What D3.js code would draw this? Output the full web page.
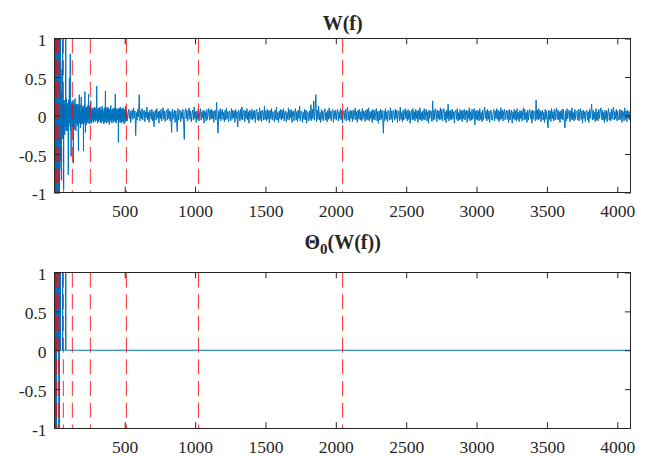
<!DOCTYPE html>
<html>
<head>
<meta charset="utf-8">
<script src="https://cdn.jsdelivr.net/npm/d3@7"></script>
<style>
  body { margin: 0; background: #fff; }
  text { font-family: "Liberation Serif", "Times New Roman", serif; fill: #262626; }
</style>
</head>
<body>
<div id="chart"></div>
<script>

var nSamples = 4096;
// dyadic scale boundaries (red dashed lines)
var scaleBounds = [2, 4, 8, 16, 32, 64, 128, 256, 512, 1024, 2048];
var xTicks = [500, 1000, 1500, 2000, 2500, 3000, 3500, 4000];
var yTicks = [-1, -0.5, 0, 0.5, 1];

// W(f), indices 1..96 (step 1)
var wHead = [
  2.1,-1.8,2.6,-2.4,1.6,-2.9,2.2,-1.5,1.9,-2.3,1.4,-1.7,2.5,-1.9,1.8,-2.0,
  1.6,-1.1,1.9,-1.2,2.1,-1.05,1.5,-1.2,1.7,-1.1,1.8,-1.25,1.4,-1.1,1.6,-1.15,
  -1.7,1.5,-1.6,1.2,-0.9,1.6,-0.7,1.1,1.45,-0.6,1.35,-0.5,0.7,-0.4,0.6,-0.45,
  0.25,-0.84,0.3,-0.2,0.15,-0.25,0.2,-0.3,0.1,0.35,1.5,-0.2,0.25,-0.15,0.2,-0.3,
  0.15,-0.97,0.2,-0.15,0.1,-0.2,0.15,-0.08,0.12,-0.25,0.08,0.2,-0.12,0.1,-0.06,0.14,
  1.4,-0.15,0.1,-0.2,0.22,-0.1,0.08,-0.18,0.14,-0.06,0.16,-0.12,0.09,-0.2,0.12,-0.07
];

// W(f), indices 97..511 (step 2)
var wMid = [
  .12,-.77,.2,-.15,.08,.49,-.1,.15,.8,-.2,.1,-.53,.14,-.08,.18,-.12,
  .1,-.15,.2,-.62,.12,-.05,.16,-.18,.08,.22,-.1,.13,-.2,.06,.15,-.09,
  .11,-.13,.07,.15,-.08,-.46,.12,-.06,.27,-.1,.09,.14,-.16,.05,-.12,.24,
  -.09,.13,.06,-.11,.1,-.07,.12,-.46,.08,-.1,.14,-.05,.31,.07,-.22,.09,
  -.08,.11,-.12,.06,.1,-.09,.13,-.04,.07,.28,-.1,.08,-.06,.12,-.11,.05,
  .06,.19,-.08,.05,-.1,.09,-.04,.07,-.07,.1,.03,-.09,.08,-.05,.11,-.06,
  .07,-.08,.04,.1,-.06,.08,.38,-.07,.05,-.1,.09,-.03,.06,-.08,.1,-.05,
  .08,-.06,.11,-.09,.04,.07,-.1,.06,-.05,.12,-.07,.03,.09,-.08,.05,-.11,
  .06,-.09,.1,-.04,.07,.32,-.08,.05,-.1,.08,-.06,.11,-.05,.07,-.09,.04,
  .1,-.07,.05,-.12,.08,-.04,.09,-.06,.13,-.08,.04,.07,-.1,.06,-.05,.09,
  -.06,.08,-.09,.05,.1,-.07,.06,-.04,.28,-.08,.07,-.1,.05,.09,-.06,.04,
  .07,-.05,.09,-.35,.06,-.08,.1,-.04,.08,-.09,.05,.11,-.07,.06,-.1,.08,
  -.05,.09,-.08,.06,.1,-.06,.04,-.11,.07,-.05,.08,-.09,.12,-.04,.06,-.07
];

// W(f), indices 513..4093 (step 5)
var wTail = [
  .05,-.07,.03,.08,-.04,.06,-.09,.02,.07,-.05,.1,-.03,.06,-.26,.04,-.06,.08,-.02,.27,-.07,
  .06,-.04,.09,-.06,.03,.07,-.08,.05,-.03,.11,-.06,.04,-.09,.07,.02,-.05,.08,-.07,.05,-.145,
  .04,.07,-.06,.09,-.03,.05,-.1,.06,-.04,.08,-.07,.03,.1,-.05,.06,-.08,.04,.07,-.06,.09,
  -.04,.06,-.07,.05,-.22,.08,-.05,.03,.07,-.09,.06,-.03,-.21,.09,-.06,.04,.07,-.08,.05,-.04,
  .08,-.06,-.31,.05,.09,-.04,.07,-.07,.04,.1,-.05,.06,-.08,.03,.07,-.06,.11,-.04,.05,-.09,
  .06,-.05,.08,-.07,.04,.09,-.06,.05,-.03,.07,-.1,.06,.04,-.07,.08,-.05,.03,.09,-.06,.07,
  -.05,.08,-.04,.06,-.09,.05,.07,-.06,.17,-.05,-.23,.06,-.04,.09,-.07,.05,.08,-.05,.04,-.08,
  .07,-.06,.1,-.04,.05,-.08,.06,.03,-.07,.09,-.05,.07,-.03,.06,-.09,.08,-.04,.05,-.15,.07,
  .05,-.07,.08,-.05,.11,-.06,.04,.07,-.08,.06,-.04,.09,-.06,.05,-.1,.07,.03,-.05,.08,-.06,
  .06,-.04,.07,-.09,.05,.08,-.06,.04,-.07,.1,-.05,.06,-.08,.07,.04,-.06,.12,-.05,.06,-.07,
  .08,-.05,.06,-.1,.07,-.04,.09,-.06,.05,.03,-.08,.07,-.05,.11,-.06,.04,-.09,.06,-.04,.08,
  -.06,.07,-.04,.09,-.07,.05,.06,-.08,.04,-.05,.1,-.06,.07,-.03,.08,-.09,.05,.06,-.07,.04,
  .09,-.06,.05,-.08,.07,-.04,.12,-.07,.05,.06,-.09,.04,-.05,.08,-.06,.07,-.1,.05,.03,-.07,
  .06,-.05,.14,-.07,.08,-.04,.19,-.06,.05,.27,-.08,.07,-.05,.12,-.06,.04,-.09,.08,-.05,.06,
  -.07,.05,.09,-.06,.04,-.08,.07,-.05,.1,-.04,.06,-.07,.05,.08,-.09,.06,-.04,.07,-.06,.05,
  .08,-.07,.05,-.04,.09,-.06,.07,-.1,.05,.06,-.05,.08,-.07,.04,.11,-.06,.05,-.08,.07,-.04,
  .06,-.08,.07,-.05,.04,.1,-.06,.05,-.09,.07,-.04,.08,-.06,.05,-.07,.09,-.05,.06,.03,-.08,
  .07,-.05,.08,-.06,.1,-.07,.05,-.04,.06,-.09,.08,-.05,.07,-.06,.04,.09,-.07,.05,-.1,.06,
  -.06,.08,-.05,.07,-.04,-.23,.06,-.07,.09,-.05,.05,-.08,.07,.04,-.06,.1,-.05,.06,-.09,.07,
  .05,-.06,.08,-.04,.07,-.09,.05,.06,-.07,.11,-.05,.04,-.08,.07,-.06,.05,.09,-.04,.06,-.07,
  .08,-.05,.06,-.1,.04,.07,-.06,.09,-.05,.05,-.07,.08,-.04,.06,-.09,.07,-.05,.1,-.06,.04,
  -.07,.06,-.05,.09,-.06,.04,.08,-.07,.05,-.1,.07,-.04,.06,.05,-.08,.19,-.06,.07,-.05,.09,
  .05,-.08,.07,-.04,.06,-.06,.1,-.05,.08,-.07,.04,.09,-.06,.05,-.09,.07,-.04,.15,-.07,.06,
  -.05,.07,-.06,.08,-.04,.05,-.1,.06,.07,-.05,.09,-.07,.04,-.06,.08,-.05,.06,-.08,.07,-.04,
  .08,-.06,.05,.07,-.09,.06,-.04,.1,-.07,.05,-.06,.08,-.05,.04,.09,-.12,.06,-.05,.07,-.06,
  .06,-.07,.09,-.05,.04,-.08,.07,-.06,.05,.11,-.04,.06,-.07,.08,-.05,.06,-.09,.05,.07,-.06,
  -.06,.05,.08,-.07,.06,-.04,.09,-.05,.07,-.08,.05,-.06,.1,-.04,.07,-.07,.05,.08,-.06,.04,
  .07,-.05,.06,-.09,.08,-.06,.04,.07,-.1,.05,-.04,.08,-.06,.06,-.07,.09,-.05,.04,-.08,.07,
  -.04,.06,-.07,.05,.1,-.06,.08,-.05,.04,-.09,.07,-.06,.05,.08,-.04,.06,-.1,.07,-.05,.06,
  .05,-.07,.2,-.05,.07,-.06,.09,-.04,.06,-.08,.05,.07,-.06,.04,-.09,.08,-.05,.06,-.07,-.16,
  .07,-.05,.06,-.08,.09,-.04,.05,-.07,.08,-.06,.04,.1,-.05,.07,-.06,.05,-.09,.06,-.04,.08,
  -.06,.08,-.05,-.16,.06,-.07,.09,-.04,.05,.07,-.08,.06,-.05,.1,-.06,.04,-.07,.08,-.05,.06,
  .05,-.06,.08,-.07,.04,.09,-.05,.06,-.1,.07,-.04,.05,-.08,.06,.07,-.06,.05,-.09,.08,-.04,
  .06,.15,-.06,.07,-.05,.04,-.08,.09,-.06,.05,-.07,.08,-.04,.06,.1,-.05,.07,-.06,.04,-.09,
  .07,-.05,.06,-.08,.05,.09,-.06,.04,-.07,.08,-.05,.06,.11,-.06,.05,-.04,.08,-.07,.06,-.05,
  -.06,.08,-.05,.07,-.09,.06,.04,-.07,.1,-.05,.06,-.08,.07,-.04,.05,-.06,.08
];

// Theta0(W(f)), indices 1..96 (step 1), zero afterwards
var thetaHead = [
  2.1,-1.8,2.6,-2.4,1.6,-2.9,2.2,-1.5,1.9,-2.3,1.4,-1.7,2.5,-1.9,1.8,-2.0,
  1.6,0,1.9,0,2.1,0,1.5,0,1.7,0,1.8,0,1.4,0,1.6,0,
  -1.7,1.5,-1.6,0,0,1.6,0,0,1.45,0,1.35,0,0,0,0,0,
  0,0,0,0,0,0,0,0,0,0,1.5,0,0,0,0,0,
  0,0,0,0,0,0,0,0,0,0,0,0,0,0,0,0,
  1.4,0,0,0,0,0,0,0,0,0,0,0,0,0,0,0
];

function series(vals, start, step) {
  return vals.map(function(v, k) { return {i: start + k * step, v: v}; });
}

var wData = series(wHead, 1, 1).concat(series(wMid, 97, 2), series(wTail, 513, 5));
var thetaData = series(thetaHead, 1, 1).concat([{i: nSamples, v: 0}]);

var W = 648, H = 456;
var left = 54.5, right = 630.8, tickLen = 5.8;

var svg = d3.select("#chart")
  .append("svg")
    .attr("width", W)
    .attr("height", H)
    .style("background", "#fff");

var x = d3.scaleLinear()
  .domain([1, nSamples])
  .range([left, right]);

var panels = [
  {id: "p1", data: wData, top: 38.5, bottom: 192.5, titleY: 30},
  {id: "p2", data: thetaData, top: 272.5, bottom: 428, titleY: 249}
];

panels.forEach(function(p, n) {
  var y = d3.scaleLinear().domain([-1, 1]).range([p.bottom, p.top]);
  var g = svg.append("g");

  g.append("clipPath").attr("id", "clip-" + p.id)
    .append("rect")
      .attr("x", left).attr("y", p.top)
      .attr("width", right - left).attr("height", p.bottom - p.top);

  // signal
  var line = d3.line()
    .x(function(d) { return x(d.i); })
    .y(function(d) { return y(d.v); });

  g.append("path")
    .datum(p.data)
    .attr("clip-path", "url(#clip-" + p.id + ")")
    .attr("fill", "none")
    .attr("stroke", "#0072BD")
    .attr("stroke-width", 1)
    .attr("stroke-linejoin", "round")
    .attr("d", line);

  // scale boundaries
  g.append("g")
    .selectAll("line")
    .data(scaleBounds)
    .enter().append("line")
      .attr("x1", function(d) { return x(d); })
      .attr("x2", function(d) { return x(d); })
      .attr("y1", y(1))
      .attr("y2", y(-1))
      .attr("stroke", "#ff0000")
      .attr("stroke-opacity", 0.75)
      .attr("stroke-width", 1.1)
      .attr("stroke-dasharray", "15,6.7");

  // axes, ticks inward on all four sides
  var fmt = function(d) { return String(d); };
  var ax = [
    g.append("g").attr("transform", "translate(0," + p.bottom + ")")
      .call(d3.axisBottom(x).tickValues(xTicks).tickFormat(fmt).tickSize(-tickLen).tickSizeOuter(0).tickPadding(12.3)),
    g.append("g").attr("transform", "translate(0," + p.top + ")")
      .call(d3.axisTop(x).tickValues(xTicks).tickFormat("").tickSize(-tickLen).tickSizeOuter(0)),
    g.append("g").attr("transform", "translate(" + left + ",0)")
      .call(d3.axisLeft(y).tickValues(yTicks).tickFormat(fmt).tickSize(-tickLen).tickSizeOuter(0).tickPadding(8)),
    g.append("g").attr("transform", "translate(" + right + ",0)")
      .call(d3.axisRight(y).tickValues(yTicks).tickFormat("").tickSize(-tickLen).tickSizeOuter(0))
  ];
  ax.forEach(function(a) {
    a.select(".domain").remove();
    a.selectAll("line").attr("stroke", "#262626");
    a.selectAll("text")
      .style("font-family", "'Liberation Serif', 'Times New Roman', serif")
      .style("font-size", "17.5px")
      .attr("fill", "#262626");
  });
  ax[2].selectAll("text").attr("dy", "0.4em");

  g.append("rect")
    .attr("x", left).attr("y", p.top)
    .attr("width", right - left).attr("height", p.bottom - p.top)
    .attr("fill", "none")
    .attr("stroke", "#262626")
    .attr("stroke-width", 1)
    .attr("shape-rendering", "crispEdges");

  // title
  var t = g.append("text")
    .attr("x", (left + right) / 2)
    .attr("y", p.titleY)
    .attr("text-anchor", "middle")
    .style("font-size", "20px")
    .style("font-weight", "bold")
    .attr("fill", "#000");
  if (n === 0) {
    t.text("W(f)");
  } else {
    t.append("tspan").text("\u0398");
    t.append("tspan").attr("dy", 5).style("font-size", "15px").text("0");
    t.append("tspan").attr("dy", -5).text("(W(f))");
  }
});

</script>
</body>
</html>
